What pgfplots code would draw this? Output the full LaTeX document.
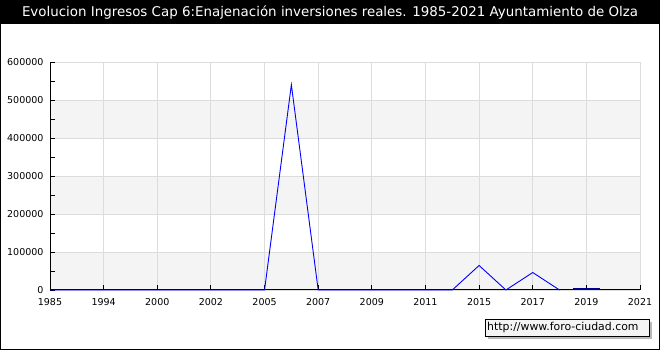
\documentclass[border=0pt]{standalone}
\usepackage{pgfplots}
\pgfplotsset{compat=1.18}
\usepackage{fontspec}
\setmainfont{DejaVu Sans}
\definecolor{band}{RGB}{244,244,244}
\definecolor{gridc}{RGB}{220,220,220}
\definecolor{navy}{RGB}{0,0,140}
\begin{document}
\begin{tikzpicture}[x=1pt,y=1pt]
\fill[black] (0,326) rectangle (660,350);
\draw[black, line width=1pt] (0.5,0.5) rectangle (659.5,349.5);
\node[white, font=\fontsize{13.4}{15}\selectfont] at (330,337.5) {Evolucion Ingresos Cap 6:Enajenación inversiones reales. 1985-2021 Ayuntamiento de Olza};
\begin{axis}[
  set layers,
  at={(50pt,60pt)}, anchor=south west, scale only axis,
  width=590pt, height=228pt,
  xmin=0, xmax=22, ymin=0, ymax=600000,
  xtick={0,2,...,22},
  xticklabels={1985,1994,2000,2002,2005,2007,2009,2011,2015,2017,2019,2021},
  ytick={0,100000,200000,300000,400000,500000,600000},
  minor ytick={50000,150000,250000,350000,450000,550000},
  scaled y ticks=false,
  yticklabel style={/pgf/number format/fixed,/pgf/number format/1000 sep={}, xshift=-3pt},
  xticklabel style={yshift=-5pt},
  /pgf/number format/assume math mode=true,
  tick label style={font=\fontsize{9.5}{11}\selectfont, black},
  grid=major,
  major grid style={color=gridc, line width=0.9pt},
  tick align=inside,
  major tick length=5pt, minor tick length=5pt,
  tick style={black, line width=0.9pt},
  axis x line*=bottom, axis y line*=left,
  axis line style={black, line width=1pt},
  clip=false,
]
\begin{pgfonlayer}{axis background}
\fill[band] (axis cs:0,0) rectangle (axis cs:22,100000);
\fill[band] (axis cs:0,200000) rectangle (axis cs:22,300000);
\fill[band] (axis cs:0,400000) rectangle (axis cs:22,500000);
\end{pgfonlayer}
\addplot[blue, line width=0.9pt] coordinates {
(0,0)(1,0)(2,0)(3,0)(4,0)(5,0)(6,0)(7,0)(8,0)(9,540000)(10,0)(11,0)(12,0)(13,0)(14,0)(15,0)(16,64500)(17,0)(18,46000)(19,0)};
\addplot[navy, line width=2pt] coordinates {(19.5,2500)(20.5,2500)};
\end{axis}
\fill[gray!55] (488,11) rectangle (652,28);
\draw[black, fill=band, line width=0.8pt] (485,14) rectangle (649,31);
\node[anchor=west, inner sep=0pt, font=\fontsize{10.9}{12}\selectfont] at (487,22.5) {http://www.foro-ciudad.com};
\end{tikzpicture}
\end{document}
